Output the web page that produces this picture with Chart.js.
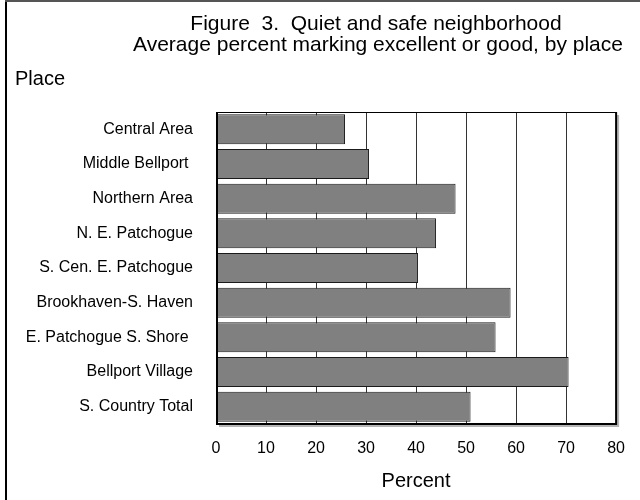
<!DOCTYPE html>
<html>
<head>
<meta charset="utf-8">
<script src="https://cdn.jsdelivr.net/npm/chart.js@4/dist/chart.umd.min.js"></script>
<style>
  html, body { margin: 0; padding: 0; background: #fff; }
  #wrap { width: 640px; height: 500px; position: relative; }
</style>
</head>
<body>
<div id="wrap"><canvas id="chart" width="640" height="500"></canvas></div>
<script>
// Places surveyed, top to bottom
const places = [
  'Central Area',
  'Middle Bellport ',
  'Northern Area',
  'N. E. Patchogue',
  'S. Cen. E. Patchogue',
  'Brookhaven-S. Haven',
  'E. Patchogue S. Shore ',
  'Bellport Village',
  'S. Country Total'
];
// Average percent marking excellent or good
const percentGood = [25.8, 30.6, 47.9, 44.0, 40.4, 58.9, 55.9, 70.5, 50.9];

const titleLines = [
  'Figure  3.  Quiet and safe neighborhood',
  'Average percent marking excellent or good, by place'
];
const categoryTitle = 'Place';
const valueTitle = 'Percent';

const FONT = '"Liberation Sans", Arial, Helvetica, sans-serif';
Chart.defaults.color = '#000';
Chart.defaults.font.family = FONT;

// Outer frame, shaded plot panel and the headings
const decorations = {
  id: 'decorations',
  beforeDraw(chart) {
    const { ctx, chartArea: a } = chart;
    ctx.save();
    ctx.fillStyle = '#fff';
    ctx.fillRect(0, 0, chart.width, chart.height);
    // frame around the figure
    ctx.fillStyle = '#000';
    ctx.fillRect(5, 0, 2, chart.height);
    ctx.fillStyle = '#555';
    ctx.fillRect(5, 0, chart.width - 5, 2);
    // drop shadow of the plot panel
    ctx.fillStyle = '#b4b4b4';
    ctx.fillRect(a.left + 3, a.top + 3, a.right - a.left, a.bottom - a.top);
    ctx.fillStyle = '#fff';
    ctx.fillRect(a.left, a.top, a.right - a.left, a.bottom - a.top);
    ctx.restore();
  },
  afterDatasetsDraw(chart) {
    const { ctx, chartArea: a } = chart;
    ctx.save();
    ctx.strokeStyle = '#000';
    ctx.lineWidth = 1;
    ctx.beginPath();
    ctx.moveTo(a.left, a.top + 0.5);
    ctx.lineTo(a.right, a.top + 0.5);
    ctx.stroke();
    ctx.lineWidth = 2;
    ctx.beginPath();
    ctx.moveTo(a.left + 1, a.top);
    ctx.lineTo(a.left + 1, a.bottom);
    ctx.moveTo(a.left, a.bottom);
    ctx.lineTo(a.right, a.bottom);
    ctx.lineTo(a.right, a.top);
    ctx.stroke();
    ctx.restore();
  },
  afterDraw(chart) {
    const { ctx } = chart;
    ctx.save();
    ctx.fillStyle = '#000';
    ctx.font = '21px ' + FONT;
    ctx.textBaseline = 'middle';
    ctx.textAlign = 'center';
    ctx.fillText(titleLines[0], 376, 24);
    ctx.fillText(titleLines[1], 378, 45);
    ctx.textAlign = 'left';
    ctx.font = '20px ' + FONT;
    ctx.fillText(categoryTitle, 15, 79);
    ctx.restore();
  }
};

new Chart(document.getElementById('chart'), {
  type: 'bar',
  data: {
    labels: places,
    datasets: [{
      data: percentGood,
      backgroundColor: '#808080',
      borderColor: '#1a1a1a',
      borderWidth: 1,
      borderSkipped: false,
      categoryPercentage: 1,
      barPercentage: 0.865
    }]
  },
  options: {
    indexAxis: 'y',
    responsive: false,
    animation: false,
    layout: { padding: { top: 112, right: 21, left: 0, bottom: 0 } },
    plugins: {
      legend: { display: false },
      title: { display: false },
      tooltip: { enabled: false }
    },
    scales: {
      x: {
        min: 0,
        max: 80,
        ticks: { stepSize: 10, padding: 15, font: { size: 16 }, color: '#000' },
        grid: { color: '#333', lineWidth: 1, drawTicks: false },
        border: { display: false },
        title: { display: true, text: valueTitle, font: { size: 20 }, color: '#000', padding: { top: 0, bottom: 7 } },
        afterFit(scale) { scale.height = 76; }
      },
      y: {
        ticks: { padding: 23, font: { size: 16 }, color: '#000' },
        grid: { display: false, drawTicks: false },
        border: { display: false },
        afterFit(scale) { scale.width = 216; }
      }
    }
  },
  plugins: [decorations]
});
</script>
</body>
</html>
